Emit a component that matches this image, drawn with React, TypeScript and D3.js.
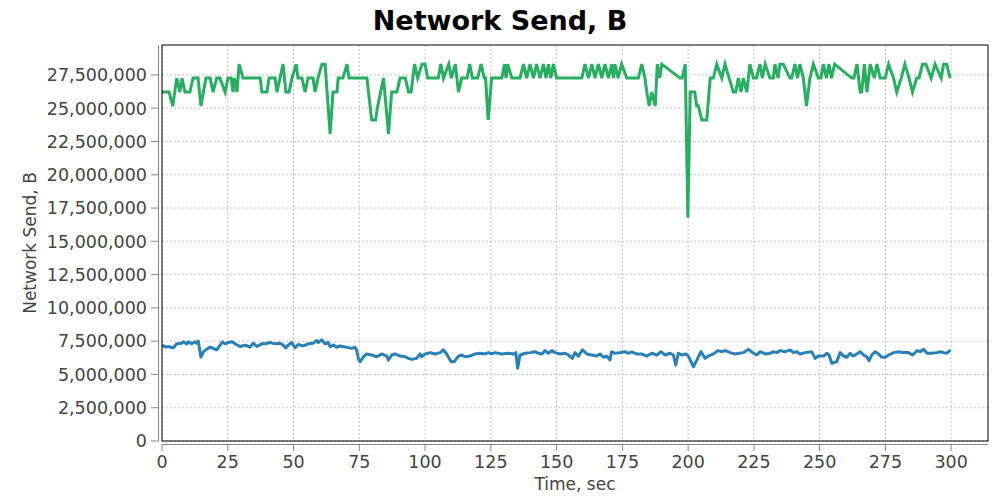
import React from "react";
import * as d3 from "d3";

const MiB = 1048576;

// Green series: time (s) and value in MiB
const greenT = [0,2.7,4.1,5.6,6.8,7.6,8.7,10.6,11.8,13.7,14.8,16.7,18.3,19.4,20.8,22,24,25.1,26.3,27,27.5,28.5,29.3,30.8,37.3,38,39.9,40.7,43,43.7,46,47.1,48.3,49.4,51,51.7,53.2,54.4,55.5,57.4,58.2,59.3,60.8,62,63.9,65,66.5,67,68.8,70.3,71.1,77.9,79.7,81.2,82,84.2,86.1,87.3,89.3,90.5,92.5,93.7,94.7,96,97.2,98.8,100,101,105,106,107,109,110,111.5,112.7,113.9,116,117,118,120,121.3,122.5,123,124,125.3,129.2,130.2,130.8,131.4,133,136.1,137.4,138.6,139.9,141.2,142.4,143.7,145,146,146.9,147.8,148.8,150,159.6,160.8,162.1,163.4,164.6,165.9,167.2,168.4,169.7,171,171.6,172.2,173.4,174.7,176.7,179.8,181.1,182.4,183.6,184.3,185.2,186.2,187.5,188.3,189.2,190,196.9,197.7,198.9,199.9,200.8,202.5,203.3,203.9,205.2,207.1,208.4,209.6,210.9,212.8,214,217.2,218.1,219.1,220.1,221,222.3,223.5,224.8,226,227.3,228.2,229.3,231.1,232.4,233,234.2,234.9,236.2,238.7,239.4,240.6,241.6,242.5,243.8,245,246.3,247.6,249.5,250.5,251.4,252.6,253.5,254.5,255.7,262.2,263,264.2,265.4,266,267,268,269.2,270.8,271.8,273,274.9,276.2,278.1,279.3,281,282.4,284,285.3,286.9,287.8,289.1,290.4,292.4,293.9,296.2,297.1,298.3,299.6];
const greenMiB = [25,25,24,26,25,26,25,25,26,26,24,26,26,25,26,26,25,26,26,25,26,25,27,26,26,25,25,26,26,25,27,25,25,26,27,26,26,25,26,26,25,26,27,27,22,25,25,26,26,27,26,26,23,23,24,26,22,25,25,26,26,25,25,27,26,27,27,26,26,27,26,27,26,27,25,26,26,27,26,26,27,26,26,23,26,26,27,26,27,26,26,27,26,27,26,27,26,27,26,27,26,27,26,26,27,26,27,26,27,26,27,26,27,26,27,26,27,26,26,26,27,26,25,24,25,24,27,26,27,26,26,27,16,25,25,24,24,23,23,26,26,27,26,27,25,25,26,25,26,25,27,26,26,27,26,27,26,26,27,26,27,27,26,26,27,26,27,26,24,26,27,26,26,27,26,27,26,27,26,26,27,25,25,27,25,27,26,27,26,26,27,26,25,26,27,26,25,26,26,27,27,26,27,26,27,27,26,26];

// Blue series: time (s) and value in millions of bytes
const blueT = [0.1,1.4,2.4,4.3,5.6,7.5,8.1,9.4,10,11.3,12.5,13.2,13.8,14.8,15.7,17,18.3,19.5,20.8,22.1,23,24,25.2,26.7,27.8,29.7,31.6,33.5,34.7,36,37.9,39.2,41,43,44.9,46.1,47,48,49.3,50.6,51.8,53.7,55.6,57.5,58.8,59.4,60.7,62,63.2,63.9,65.2,66.4,67.7,68.9,70.2,72.1,73.4,74,74.6,75.3,76.6,77.8,79.7,81.6,83.5,85.4,86.1,87.3,88.6,90.5,92.4,93.7,95,96.8,98.1,98.7,100,101.9,103.8,105.7,107,108.2,109.9,111.1,112.7,113.9,115.2,117.1,119,120.9,122.8,124.1,125.3,126.6,129.2,131.7,133.6,134.5,135.2,136.1,138,139.9,141.8,143.1,144.4,145.6,146.9,148.2,149.4,151.3,153.2,154.5,156,157,158.3,159.8,161.5,163.4,165.2,166.5,167.8,169,170.3,170.9,172.2,174.1,176,177.3,178.6,180.4,182.3,184.2,186.2,188.1,189.7,191.3,193.1,194.4,195.3,196.3,197.6,199.1,200.1,202,203.3,204.9,206.5,207.7,209.6,211.3,212.8,214.1,216,217.9,219.4,221.1,223,224.5,226.1,227.4,229.3,231.2,232.5,233.7,235,236.9,238.8,240.1,241.3,242.6,244.5,247,248.3,249.6,251.5,252.7,253.6,254.6,256.5,257.8,259.1,260.3,261.6,262.8,264.1,265.4,266.7,267.9,268.8,269.8,271.1,272.4,273.6,274.9,276.2,278.1,280,281.9,283.8,285.3,287,288.2,289.5,290.8,292.7,294.6,295.9,297.1,298.4,299.7];
const blueM = [7.2,7.05,7.1,7.0,7.3,7.35,7.45,7.3,7.45,7.3,7.45,7.35,7.5,6.3,6.7,6.9,7.05,6.95,6.85,7.2,7.45,7.3,7.4,7.45,7.3,7.1,7.2,7.05,7.35,7.1,7.3,7.3,7.4,7.3,7.35,7.2,7.0,7.2,7.4,7.0,7.25,7.15,7.3,7.35,7.55,7.4,7.6,7.3,7.4,7.09,7.21,7.04,7.14,7.09,7.04,6.96,7.04,6.84,6.21,5.96,6.33,6.54,6.46,6.33,6.54,6.38,6.08,6.46,6.54,6.38,6.33,6.21,6.13,6.21,6.54,6.33,6.54,6.64,6.54,6.64,6.84,6.54,5.96,5.96,6.38,6.46,6.33,6.38,6.54,6.59,6.54,6.64,6.54,6.64,6.54,6.59,6.54,6.64,5.46,6.46,6.59,6.64,6.71,6.59,6.54,6.79,6.59,6.79,6.64,6.54,6.59,6.46,6.21,6.64,6.38,6.84,6.54,6.46,6.38,6.54,6.29,6.38,6.08,6.71,6.59,6.64,6.71,6.59,6.69,6.54,6.54,6.38,6.59,6.46,6.71,6.46,6.59,6.46,5.71,6.59,6.46,6.54,6.38,5.58,6.08,6.71,6.21,6.38,6.54,6.79,6.71,6.79,6.64,6.54,6.59,6.64,6.89,6.64,6.46,6.71,6.54,6.59,6.71,6.64,6.79,6.71,6.84,6.64,6.71,6.54,6.64,6.71,6.21,6.38,6.38,6.59,6.46,5.84,5.96,6.64,6.38,6.29,6.59,6.38,6.54,6.71,6.46,6.33,6.03,6.46,6.71,6.54,6.29,6.29,6.46,6.64,6.71,6.64,6.64,6.46,6.79,6.71,6.89,6.59,6.59,6.64,6.71,6.64,6.59,6.84];

const xTicks = [0,25,50,75,100,125,150,175,200,225,250,275,300];
const yTicks = [0,2500000,5000000,7500000,10000000,12500000,15000000,17500000,20000000,22500000,25000000,27500000];

const title = "Network Send, B";
const xLabel = "Time, sec";
const yLabel = "Network Send, B";

export default function App() {
  const W = 1000, H = 500;
  const left = 162, right = 988, top = 45, bottom = 441;
  const x = d3.scaleLinear().domain([0, 314]).range([left, right]);
  const y = d3.scaleLinear().domain([0, 29.75e6]).range([bottom, top]);
  const fmt = d3.format(",");

  const green = greenT.map((t, i) => [t, greenMiB[i] * MiB] as [number, number]);
  const blue = blueT.map((t, i) => [t, blueM[i] * 1e6] as [number, number]);
  const line = d3.line<[number, number]>().x(d => x(d[0])).y(d => y(d[1]));

  const font = "'DejaVu Sans', sans-serif";
  return (
    <svg width={W} height={H} style={{ position: "absolute", left: 0, top: 0, background: "#fff" }}>
      <rect x={0} y={0} width={W} height={H} fill="#fff" />
      <text x={500} y={30} textAnchor="middle" fontFamily={font} fontWeight="bold" fontSize={27} fill="#000">{title}</text>
      {/* grid */}
      {xTicks.map(t => (
        <line key={"gx" + t} x1={x(t)} x2={x(t)} y1={top} y2={bottom} stroke="#c4c4c4" strokeDasharray="2,2" />
      ))}
      {yTicks.map(t => (
        <line key={"gy" + t} x1={left} x2={right} y1={y(t)} y2={y(t)} stroke="#c4c4c4" strokeDasharray="2,2" />
      ))}
      <path d={line(green) || ""} fill="none" stroke="#27ae60" strokeWidth={3} strokeLinejoin="miter" />
      <path d={line(blue) || ""} fill="none" stroke="#2980b9" strokeWidth={3} strokeLinejoin="round" />
      <rect x={left} y={top} width={right - left} height={bottom - top} fill="none" stroke="#000" strokeWidth={1} />
      {/* y axis */}
      <line x1={158.5} x2={158.5} y1={top} y2={bottom} stroke="#888" />
      {yTicks.map(t => (
        <g key={"yt" + t}>
          <line x1={151} x2={158.5} y1={y(t)} y2={y(t)} stroke="#888" />
          <text x={147} y={y(t)} dy="0.36em" textAnchor="end" fontFamily={font} fontSize={17.5} fill="#444">{fmt(t)}</text>
        </g>
      ))}
      {/* x axis */}
      <line x1={left} x2={right} y1={444.5} y2={444.5} stroke="#888" />
      {xTicks.map(t => (
        <g key={"xt" + t}>
          <line x1={x(t)} x2={x(t)} y1={444.5} y2={451} stroke="#888" />
          <text x={x(t)} y={468} textAnchor="middle" fontFamily={font} fontSize={17.5} fill="#444">{t}</text>
        </g>
      ))}
      <text x={(left + right) / 2} y={490} textAnchor="middle" fontFamily={font} fontSize={17} fill="#444">{xLabel}</text>
      <text transform={`translate(36,${(top + bottom) / 2}) rotate(-90)`} textAnchor="middle" fontFamily={font} fontSize={17} fill="#444">{yLabel}</text>
    </svg>
  );
}
